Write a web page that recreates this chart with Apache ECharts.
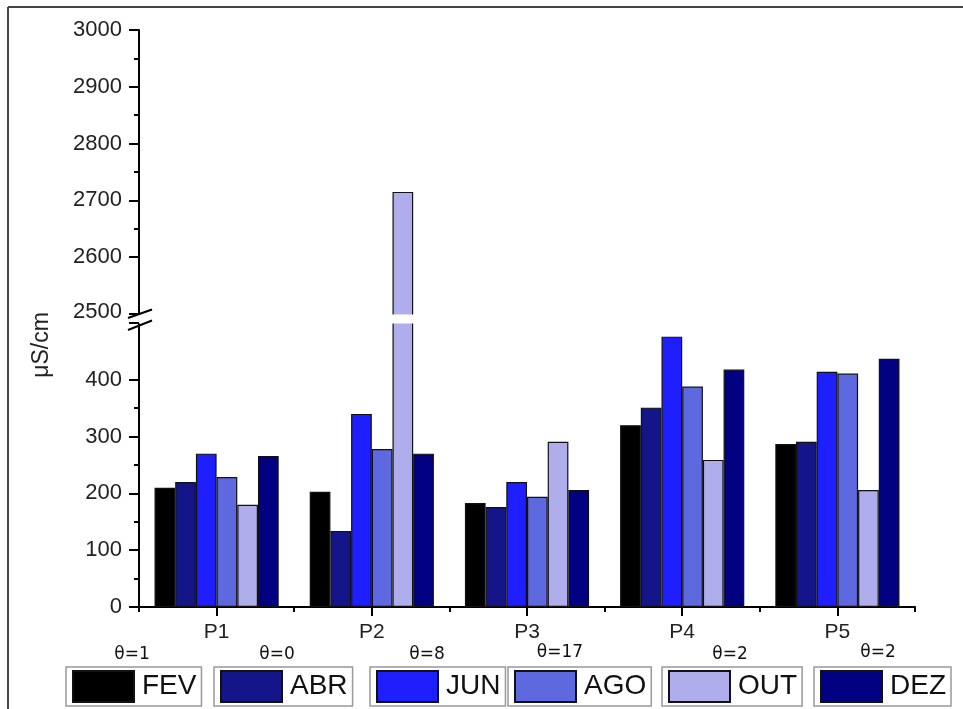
<!DOCTYPE html>
<html><head><meta charset="utf-8">
<script src="https://cdn.jsdelivr.net/npm/echarts@6/dist/echarts.min.js"></script>
<style>html,body{margin:0;padding:0;background:#fff}#c{width:963px;height:709px}</style>
</head><body><div id="c"></div>
<script>
// ---- data ----
const categories = ['P1', 'P2', 'P3', 'P4', 'P5'];
const months = ['FEV', 'ABR', 'JUN', 'AGO', 'OUT', 'DEZ'];
const FEV = [210, 203, 183, 320, 287];
const ABR = [220, 134, 176, 351, 291];
const JUN = [270, 340, 220, 476, 414];
const AGO = [229, 278, 194, 388, 411];
const OUT = [180, 2715, 291, 259, 206];
const DEZ = [266, 270, 206, 418, 437];
const thetaLabels = ['θ=1', 'θ=0', 'θ=8', 'θ=17', 'θ=2', 'θ=2'];
const yBreak = { start: 500, end: 2500 };
const yRange = { min: 0, max: 3000, interval: 100 };

// ---- styles / layout ----
const colors = ['#000000', '#15158a', '#1e1eff', '#5f69df', '#b0adec', '#000080'];
const legendLeft = [66, 214, 370, 508, 662, 814];
const thetaX = [132, 277, 427, 560, 730, 878];
const thetaY = [655, 655, 655, 653, 655, 653];
const FONT = 'Liberation Sans, Arial, sans-serif';

const valuesByMonth = [FEV, ABR, JUN, AGO, OUT, DEZ];

const chart = echarts.init(document.getElementById('c'));

const series = months.map((m, i) => ({
  name: m,
  type: 'bar',
  data: valuesByMonth[i],
  barGap: '0%',
  barCategoryGap: '20%',
  itemStyle: { color: colors[i], borderColor: '#111', borderWidth: 1.2 },
  emphasis: { disabled: true },
  z: 2
}));

const legends = months.map((m, i) => ({
  data: [{ name: m, icon: 'rect' }],
  left: legendLeft[i],
  top: 667,
  orient: 'horizontal',
  padding: [3, 5, 3, 6],
  itemWidth: 61,
  itemHeight: 31,
  selectedMode: false,
  borderColor: '#999',
  borderWidth: 1.5,
  textStyle: { fontSize: 28, color: '#111', fontFamily: FONT, padding: [0, 0, 0, 3] }
}));

const option = {
  animation: false,
  backgroundColor: '#fff',
  grid: { left: 139, right: 48, top: 30, bottom: 102, containLabel: false },
  legend: legends,
  xAxis: [{
    type: 'category',
    data: categories,
    boundaryGap: true,
    axisLine: { show: true, lineStyle: { color: '#000', width: 2 } },
    axisTick: { show: true, alignWithLabel: true, length: 9, lineStyle: { color: '#000', width: 2 } },
    axisLabel: { fontSize: 21, color: '#222', fontFamily: FONT, margin: 15 },
    splitLine: { show: false }
  }, {
    type: 'category',
    data: categories,
    position: 'bottom',
    boundaryGap: true,
    axisLine: { show: false },
    axisTick: { show: true, length: 5, lineStyle: { color: '#000', width: 2 } },
    axisLabel: { show: false },
    splitLine: { show: false }
  }],
  yAxis: {
    type: 'value',
    min: yRange.min,
    max: yRange.max,
    interval: yRange.interval,
    breaks: [{ start: yBreak.start, end: yBreak.end, gap: '1.56%' }],
    breakArea: {
      show: true,
      itemStyle: { color: '#fff', opacity: 1, borderColor: '#fff', borderWidth: 0 },
      zigzagAmplitude: 0,
      zigzagZ: 100,
      expandOnClick: false
    },
    axisLine: { show: true, lineStyle: { color: '#000', width: 2 } },
    axisTick: { show: true, length: 10, lineStyle: { color: '#000', width: 2 } },
    minorTick: { show: true, splitNumber: 2, length: 5, lineStyle: { color: '#000', width: 2 } },
    axisLabel: {
      fontSize: 22, color: '#222', fontFamily: FONT, margin: 17,
      formatter: v => (v === yBreak.start ? '' : String(v))
    },
    splitLine: { show: false },
    minorSplitLine: { show: false }
  },
  series: series
};
chart.setOption(option);

// decorations computed from the axis scale
const axisX = chart.convertToPixel({ xAxisIndex: 0 }, -0.5);
const yLow = chart.convertToPixel({ yAxisIndex: 0 }, yBreak.start);
const yHigh = chart.convertToPixel({ yAxisIndex: 0 }, yBreak.end);
const graphics = [
  { type: 'line', shape: { x1: 8, y1: 7, x2: 963, y2: 7 }, style: { stroke: '#444', lineWidth: 2 }, silent: true },
  { type: 'line', shape: { x1: 8, y1: 7, x2: 8, y2: 709 }, style: { stroke: '#444', lineWidth: 2 }, silent: true },
  { type: 'rect', shape: { x: axisX - 3, y: yHigh + 1, width: 6, height: Math.max(yLow - yHigh - 2, 1) }, style: { fill: '#fff' }, z: 200, silent: true },
  { type: 'line', shape: { x1: 128, y1: yHigh + 4, x2: 152, y2: yHigh - 4.5 }, style: { stroke: '#000', lineWidth: 2 }, z: 201, silent: true },
  { type: 'line', shape: { x1: 128, y1: yLow + 7, x2: 152, y2: yLow - 2.5 }, style: { stroke: '#000', lineWidth: 2 }, z: 201, silent: true },
  { type: 'text', x: 42, y: 345, rotation: Math.PI / 2, style: { text: 'μS/cm', fontSize: 23, fill: '#222', fontFamily: FONT, align: 'center', verticalAlign: 'middle' }, silent: true }
];
thetaLabels.forEach((t, i) => {
  graphics.push({ type: 'text', x: thetaX[i], y: thetaY[i], style: { text: t, fontSize: 17, fill: '#111', fontFamily: 'DejaVu Sans, sans-serif', align: 'center', verticalAlign: 'middle' }, silent: true });
});
chart.setOption({ graphic: graphics });
</script>
</body></html>
